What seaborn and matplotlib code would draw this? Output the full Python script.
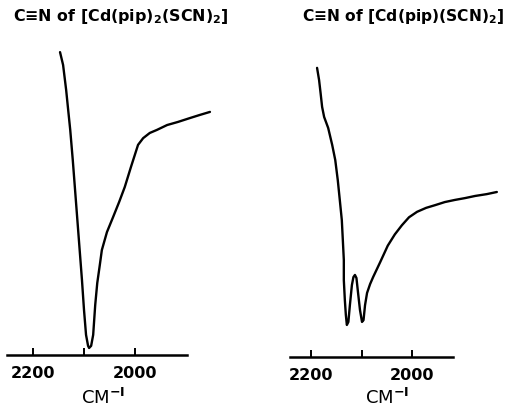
import matplotlib
matplotlib.use("Agg")
import matplotlib.pyplot as plt
import seaborn as sns
import pandas as pd

# ---- data (wavenumber in cm^-1, transmittance in arbitrary %) ----
wn_left = [2147, 2141, 2135, 2131, 2127, 2122, 2116, 2110, 2104, 2100, 2096, 2092,
           2090, 2086, 2082, 2078, 2074, 2069, 2065, 2055, 2043, 2031, 2020, 2008,
           1994, 1984, 1971, 1957, 1937, 1916, 1892, 1873, 1853]
t_left = [99.3, 95.1, 86.9, 80.3, 73.8, 63.9, 50.8, 37.7, 24.6, 14.8, 6.6, 3.0,
          2.3, 3.0, 6.6, 16.4, 23.6, 29.5, 34.4, 40.3, 45.2, 50.2, 55.1, 61.6,
          68.9, 71.1, 72.8, 73.8, 75.4, 76.4, 77.7, 78.7, 79.7]

wn_right = [2188, 2184, 2181, 2178, 2174, 2166, 2158, 2152, 2147, 2143, 2139, 2137,
            2135, 2135, 2133, 2131, 2129, 2126, 2123, 2119, 2116, 2113, 2110, 2107,
            2103, 2099, 2096, 2093, 2089, 2083, 2077, 2063, 2048, 2034, 2020, 2006,
            1990, 1972, 1954, 1935, 1915, 1895, 1875, 1852, 1832]
t_right = [94.8, 90.8, 86.5, 82.0, 78.7, 75.1, 69.5, 64.6, 58.0, 51.5, 44.9, 38.4,
           31.8, 25.2, 18.7, 13.8, 10.5, 11.5, 17.0, 23.6, 26.2, 26.9, 25.9, 21.3,
           15.4, 11.5, 12.1, 17.0, 21.0, 23.9, 26.2, 31.1, 36.5, 40.2, 43.2, 45.8,
           47.6, 48.9, 49.8, 50.8, 51.5, 52.1, 52.8, 53.4, 54.1]

tick_values = [2200, 2100, 2000]
tick_labels = ["2200", "", "2000"]
title_left = r"C≡N of [Cd(pip)$_2$(SCN)$_2$]"
title_right = r"C≡N of [Cd(pip)(SCN)$_2$]"
xlabel = r"CM$^{\mathbf{-I}}$"

sns.set_style("white")
plt.rcParams["font.family"] = ["DejaVu Sans"]
plt.rcParams["mathtext.fontset"] = "dejavusans"
plt.rcParams["mathtext.default"] = "bf"
plt.rcParams["text.color"] = "black"

W, H = 510, 411
fig = plt.figure(figsize=(W / 100, H / 100), dpi=100)

def px_axes(x0, x1, ybase, height):
    return fig.add_axes([x0 / W, (H - ybase) / H, (x1 - x0) / W, height / H])

ax1 = px_axes(7, 187, 355, 305)
ax2 = px_axes(290, 453, 357, 305)

df1 = pd.DataFrame({"wn": wn_left, "T": t_left})
df2 = pd.DataFrame({"wn": wn_right, "T": t_right})

for ax, df, xlim, lblx, lbly in [
    (ax1, df1, (2251, 1898), 0.533, -0.174),
    (ax2, df2, (2241.6, 1918.8), 0.595, -0.167),
]:
    sns.lineplot(data=df, x="wn", y="T", sort=False, ax=ax, color="black",
                 linewidth=1.7, estimator=None)
    for line in ax.lines:
        line.set_clip_on(False)
    ax.set_xlim(*xlim)
    ax.set_ylim(0, 100)
    ax.set_xticks(tick_values)
    ax.set_xticklabels(tick_labels, fontweight="bold", fontsize=11.5, color="black")
    ax.set_yticks([])
    ax.set_ylabel("")
    ax.set_xlabel(xlabel, fontsize=13, fontweight="normal", color="black")
    ax.xaxis.label.set_va("bottom")
    ax.xaxis.set_label_coords(lblx, lbly)
    ax.tick_params(axis="x", bottom=True, direction="in", length=5, width=1.4,
                   pad=8, color="black", labelcolor="black")
    sns.despine(ax=ax, left=True, top=True, right=True)
    ax.spines["bottom"].set_linewidth(1.8)
    ax.spines["bottom"].set_color("black")
    ax.set_facecolor("none")

fig.text(13 / W, 1 - 17 / H, title_left, ha="left", va="center",
         fontsize=11.4, fontweight="bold", color="black")
fig.text(302 / W, 1 - 17 / H, title_right, ha="left", va="center",
         fontsize=11.2, fontweight="bold", color="black")

fig.savefig("out.png", dpi=100, facecolor="white")
